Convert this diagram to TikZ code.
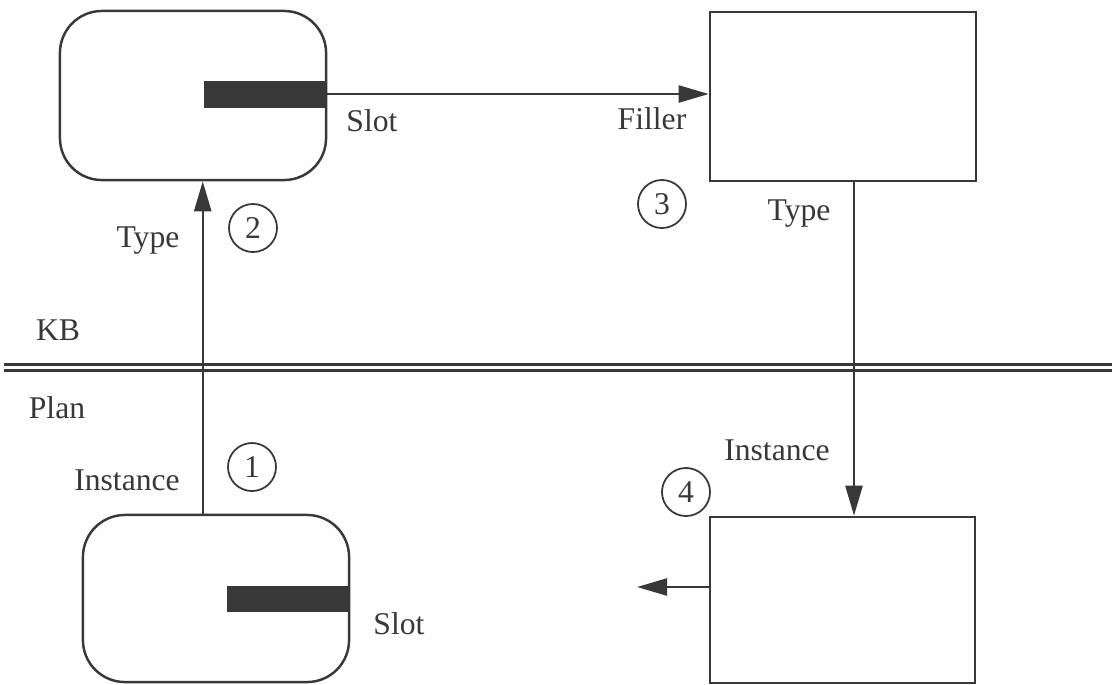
\documentclass[tikz,border=0pt]{standalone}
\usepackage{fontspec}
\setmainfont{Liberation Serif}
\usetikzlibrary{arrows.meta,shapes.geometric}
\definecolor{ink}{gray}{0.22}

\begin{document}
\begin{tikzpicture}[x=0.01cm, y=-0.01cm, line width=0.7pt, draw=ink, text=ink,
    font=\fontsize{9}{11}\selectfont,
    frame/.style={draw, minimum width=2.66cm, minimum height=1.69cm, inner sep=0pt},
    roundframe/.style={frame, rounded corners=0.42cm},
    slotbar/.style={fill=ink, minimum width=1.22cm, minimum height=0.27cm, inner sep=0pt},
    num/.style={draw, circle, minimum size=0.48cm, inner sep=0pt, line width=0.5pt},
    tip/.style={-{Triangle[length=0.3cm, width=0.17cm]}}]
  \useasboundingbox (0,0) rectangle (1112,684);

  % KB 层
  \node[roundframe] (kbobj) at (193,95.5) {};
  \node[slotbar] (kbbar) at (265,94) {};
  \node[frame, minimum height=1.69cm] (filler) at (843,96.5) {};

  % Plan 层
  \node[roundframe, minimum height=1.67cm] (planobj) at (216,598.5) {};
  \node[slotbar, minimum height=0.26cm] (planbar) at (288,599) {};
  \node[frame, minimum width=2.65cm, minimum height=1.66cm] (inst) at (842.5,600) {};

  % 分界线
  \coordinate (sepl) at (4,367.5);
  \coordinate (sepr) at (1112,367.5);
  \draw[double=white, double distance=0.035cm, line width=0.025cm] (sepl) -- (sepr);
  \node (kb) at (58,330) {KB};
  \node (plan) at (57,408) {Plan};

  \coordinate (out) at (637,587);
  \draw[tip] (kbbar.east) -- (kbbar.east -| filler.west);
  \draw[tip] (planobj.north -| kbbar.west) -- (kbobj.south -| kbbar.west);
  \draw[tip] ([xshift=0.11cm]filler.south) -- ([xshift=0.11cm]filler.south |- inst.north);
  \draw[tip] (out -| inst.west) -- (out);

  % 标签
  \node (slottop) at (372,121) {Slot};
  \node (fill) at (652,119) {Filler};
  \node (typel) at (148,241) {Type};
  \node (typer) at (799,214) {Type};
  \node (instl) at (127,480) {Instance};
  \node (instr) at (777,450) {Instance};
  \node (slotbot) at (399,624) {Slot};

  % 步骤编号
  \node[num] (s1) at (252,467) {1};
  \node[num] (s2) at (253,228) {2};
  \node[num] (s3) at (662,204) {3};
  \node[num] (s4) at (686,492) {4};
\end{tikzpicture}
\end{document}
